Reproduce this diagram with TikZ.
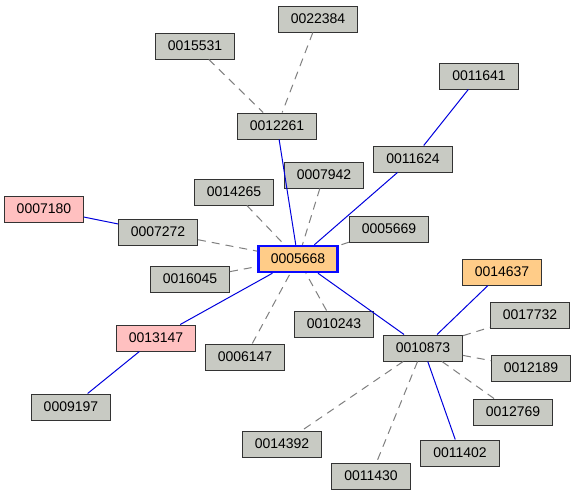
\documentclass[tikz,border=0pt]{standalone}
\usepackage{fontspec}
\setmainfont{Liberation Sans}
\definecolor{nodegray}{HTML}{C8CAC3}
\definecolor{nodepink}{HTML}{FFC0C0}
\definecolor{nodeorange}{HTML}{FFCC88}
\definecolor{edgegray}{HTML}{808080}
\definecolor{edgeblue}{HTML}{0000DD}
\definecolor{borderblue}{HTML}{0A0AFF}
\definecolor{bordergray}{HTML}{333333}
\tikzset{
  nd/.style={draw=bordergray, line width=1pt, fill=nodegray, minimum width=79pt, minimum height=26pt, inner sep=0pt, font=\fontsize{14}{16}\selectfont},
  pinknd/.style={nd, fill=nodepink},
  orangend/.style={nd, fill=nodeorange},
  centernd/.style={nd, fill=nodeorange, draw=borderblue, line width=2.5pt},
  blueedge/.style={draw=edgeblue, line width=1pt},
  grayedge/.style={draw=edgegray, line width=1pt, dash pattern=on 8pt off 6pt},
}
\begin{document}
\begin{tikzpicture}[x=1pt,y=-1pt]
\useasboundingbox (0,0) rectangle (577,496);
\fill[white] (0,0) rectangle (577,496);
\node[nd] (n22384) at (318,19) {0022384};
\node[nd] (n15531) at (195,46) {0015531};
\node[nd] (n11641) at (479,76) {0011641};
\node[nd] (n12261) at (277,126) {0012261};
\node[nd] (n11624) at (413,159) {0011624};
\node[nd] (n07942) at (324,175) {0007942};
\node[nd] (n14265) at (234,192) {0014265};
\node[pinknd] (n07180) at (44,209) {0007180};
\node[nd] (n07272) at (158,232) {0007272};
\node[nd] (n05669) at (389,229) {0005669};
\node[centernd] (n05668) at (298,259) {0005668};
\node[nd] (n16045) at (190,279) {0016045};
\node[orangend] (n14637) at (502,272) {0014637};
\node[nd] (n17732) at (530,315) {0017732};
\node[nd] (n10243) at (334,324) {0010243};
\node[pinknd] (n13147) at (156,338) {0013147};
\node[nd] (n10873) at (423,348) {0010873};
\node[nd] (n06147) at (245,357) {0006147};
\node[nd] (n12189) at (531,368) {0012189};
\node[nd] (n09197) at (71,407) {0009197};
\node[nd] (n12769) at (513,412) {0012769};
\node[nd] (n14392) at (282,444) {0014392};
\node[nd] (n11402) at (460,453) {0011402};
\node[nd] (n11430) at (371,476) {0011430};
% edges
\draw[grayedge] (n15531) -- (n12261);
\draw[grayedge] (n22384) -- (n12261);
\draw[grayedge] (n07942) -- (n05668);
\draw[grayedge] (n14265) -- (n05668);
\draw[grayedge] (n07272) -- (n05668);
\draw[grayedge] (n05669) -- (n05668);
\draw[grayedge] (n16045) -- (n05668);
\draw[grayedge] (n06147) -- (n05668);
\draw[grayedge] (n10243) -- (n05668);
\draw[grayedge] (n10873) -- (n17732);
\draw[grayedge] (n10873) -- (n12189);
\draw[grayedge] (n10873) -- (n12769);
\draw[grayedge] (n10873) -- (n14392);
\draw[grayedge] (n10873) -- (n11430);
\draw[blueedge] (n12261) -- (n05668);
\draw[blueedge] (n11641) -- (n11624);
\draw[blueedge] (n11624) -- (n05668);
\draw[blueedge] (n07180) -- (n07272);
\draw[blueedge] (n05668) -- (n13147);
\draw[blueedge] (n13147) -- (n09197);
\draw[blueedge] (n05668) -- (n10873);
\draw[blueedge] (n14637) -- (n10873);
\draw[blueedge] (n10873) -- (n11402);
\end{tikzpicture}
\end{document}
